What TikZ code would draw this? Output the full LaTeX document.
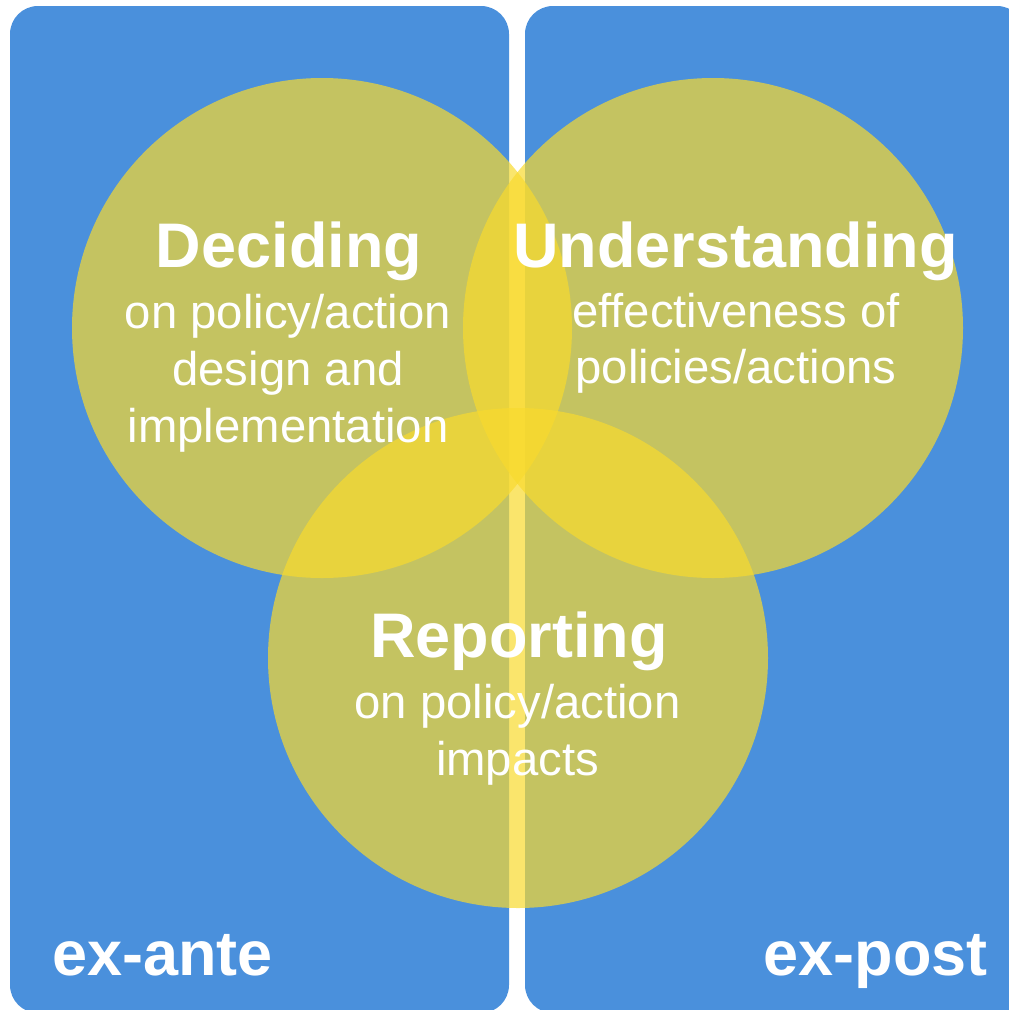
\documentclass[tikz,border=0pt]{standalone}
\usepackage{fontspec}
\setmainfont{Liberation Sans}
\definecolor{boxblue}{RGB}{74,144,220}
\definecolor{circyellow}{RGB}{248,218,46}
\begin{document}
\begin{tikzpicture}[x=1pt,y=-1pt,
  panel/.style={fill=boxblue, rounded corners=28pt},
  ring/.style={circle, fill=circyellow, fill opacity=0.7, draw=none, inner sep=0pt, minimum size=500pt},
  title/.style={text=white, font=\fontsize{63}{63}\selectfont\bfseries, anchor=base, inner sep=0pt},
  sub/.style={text=white, font=\fontsize{47.3}{47.3}\selectfont, anchor=base, inner sep=0pt}]
\useasboundingbox (0,0) rectangle (1009,1010);
\begin{scope}
\clip (0,0) rectangle (1009,1010);
\fill[panel] (10,6) rectangle (509,1013);
\fill[panel] (525,6) rectangle (1025,1013);
\end{scope}
\node[ring] (decide) at (322,328) {};
\node[ring] (under) at (713,328) {};
\node[ring] (report) at (518,658) {};
\node[title] (t1) at (289,267) {Deciding};
\node[sub] (s11) at (288,328) {on policy/action};
\node[sub] (s12) at (288,385) {design and};
\node[sub] (s13) at (288,442) {implementation};
\node[title] (t2) at (735.5,267) {Understanding};
\node[sub] (s21) at (736,327) {effectiveness of};
\node[sub] (s22) at (736,383) {policies/actions};
\node[title] (t3) at (519,657) {Reporting};
\node[sub] (s31) at (517.5,718) {on policy/action};
\node[sub] (s32) at (517.5,775) {impacts};
\node[title, anchor=base west] (ea) at (52,975) {ex-ante};
\node[title, anchor=base east] (ep) at (988,975) {ex-post};
\end{tikzpicture}
\end{document}
